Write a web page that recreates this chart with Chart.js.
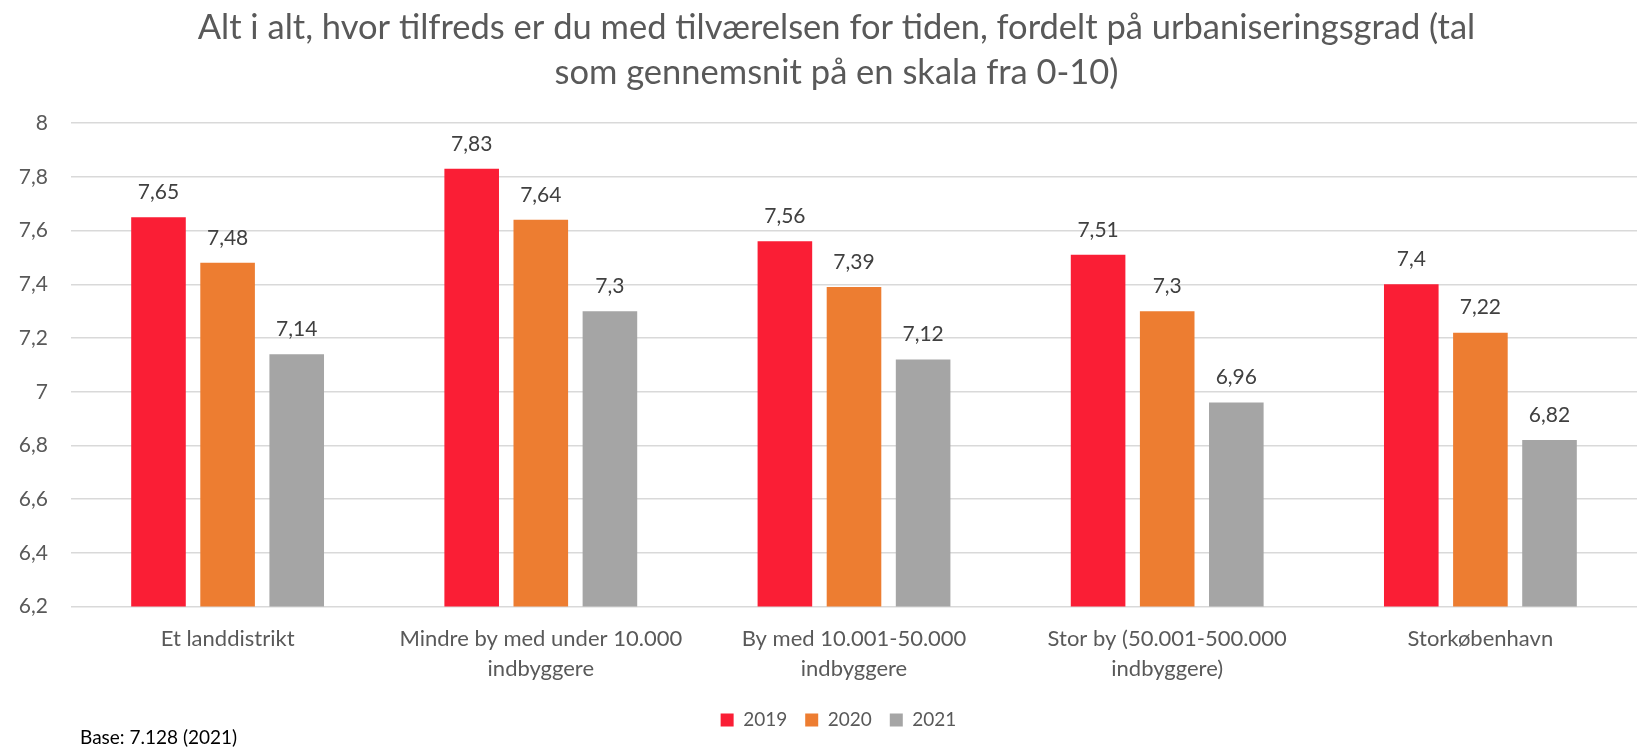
<!DOCTYPE html>
<html>
<head>
<meta charset="utf-8">
<script src="https://cdn.jsdelivr.net/npm/chart.js@4.4.1/dist/chart.umd.min.js"></script>
<style>
  html, body { margin: 0; padding: 0; background: #ffffff; }
  #wrap { position: relative; width: 1637px; height: 749px; }
  #note { position: absolute; left: 80px; top: 726px; font-family: Lato, "Open Sans", sans-serif; font-size: 19px; color: #000; line-height: 22px; white-space: nowrap; }
</style>
</head>
<body>
<div id="wrap">
  <canvas id="c" width="1637" height="749"></canvas>
  <div id="note">Base: 7.128 (2021)</div>
</div>
<script>
const titleLines = ["Alt i alt, hvor tilfreds er du med tilværelsen for tiden, fordelt på urbaniseringsgrad (tal", "som gennemsnit på en skala fra 0-10)"];
const categories = [
  ["Et landdistrikt"],
  ["Mindre by med under 10.000", "indbyggere"],
  ["By med 10.001-50.000", "indbyggere"],
  ["Stor by (50.001-500.000", "indbyggere)"],
  ["Storkøbenhavn"]
];
const seriesNames = ["2019", "2020", "2021"];
const values2019 = [7.65, 7.83, 7.56, 7.51, 7.4];
const values2020 = [7.48, 7.64, 7.39, 7.3, 7.22];
const values2021 = [7.14, 7.3, 7.12, 6.96, 6.82];
const yMin = 6.2, yMax = 8, yStep = 0.2;

const FONT = 'Lato, "Open Sans", sans-serif';
const fmt = v => String(Math.round(v * 100) / 100).replace('.', ',');

const dataLabels = {
  id: 'dataLabels',
  afterDatasetsDraw(chart) {
    const ctx = chart.ctx;
    ctx.save();
    ctx.font = '21px ' + FONT;
    ctx.fillStyle = '#404040';
    ctx.textAlign = 'center';
    ctx.textBaseline = 'middle';
    chart.data.datasets.forEach((ds, i) => {
      const meta = chart.getDatasetMeta(i);
      if (meta.hidden) return;
      meta.data.forEach((bar, j) => {
        ctx.fillText(fmt(ds.data[j]), bar.x, bar.y - 25);
      });
    });
    ctx.restore();
  }
};

// shift the centring box of title and legend slightly right, as in the original
const shiftBlocks = {
  id: 'shiftBlocks',
  afterLayout(chart) {
    if (chart.titleBlock) chart.titleBlock.left = 36;
    if (chart.legend) chart.legend.left = 40;
  }
};

new Chart(document.getElementById('c'), {
  type: 'bar',
  data: {
    labels: categories,
    datasets: [
      { label: seriesNames[0], data: values2019, backgroundColor: '#FA1E35' },
      { label: seriesNames[1], data: values2020, backgroundColor: '#ED7D31' },
      { label: seriesNames[2], data: values2021, backgroundColor: '#A5A5A5' }
    ]
  },
  options: {
    responsive: false,
    animation: false,
    datasets: { bar: { categoryPercentage: 0.662, barPercentage: 0.79 } },
    layout: { padding: { left: 0, right: 0, top: 0, bottom: 9.5 } },
    plugins: {
      title: {
        display: true,
        text: titleLines,
        color: '#595959',
        font: { family: FONT, size: 34.5, weight: 'normal', lineHeight: 1.304 },
        padding: { top: 5.5, bottom: 27.7 }
      },
      legend: {
        position: 'bottom',
        labels: {
          boxWidth: 13, boxHeight: 13, padding: 18,
          color: '#595959',
          font: { family: FONT, size: 19 }
        }
      },
      tooltip: { enabled: false }
    },
    scales: {
      x: {
        grid: { display: false, drawTicks: false },
        border: { display: false },
        ticks: {
          color: '#595959', padding: 17.4, maxRotation: 0, autoSkip: false,
          font: { family: FONT, size: 22, lineHeight: 1.36 }
        },
        afterFit(s) { s.height = 85.9; }
      },
      y: {
        min: yMin, max: yMax,
        grid: { color: '#d9d9d9', lineWidth: 1.5, drawTicks: false },
        border: { display: false },
        ticks: {
          stepSize: yStep, padding: 23, color: '#595959',
          font: { family: FONT, size: 21 },
          callback: v => fmt(Math.round(v * 10) / 10)
        },
        afterFit(s) { s.width = 71; }
      }
    }
  },
  plugins: [dataLabels, shiftBlocks]
});
</script>
</body>
</html>
